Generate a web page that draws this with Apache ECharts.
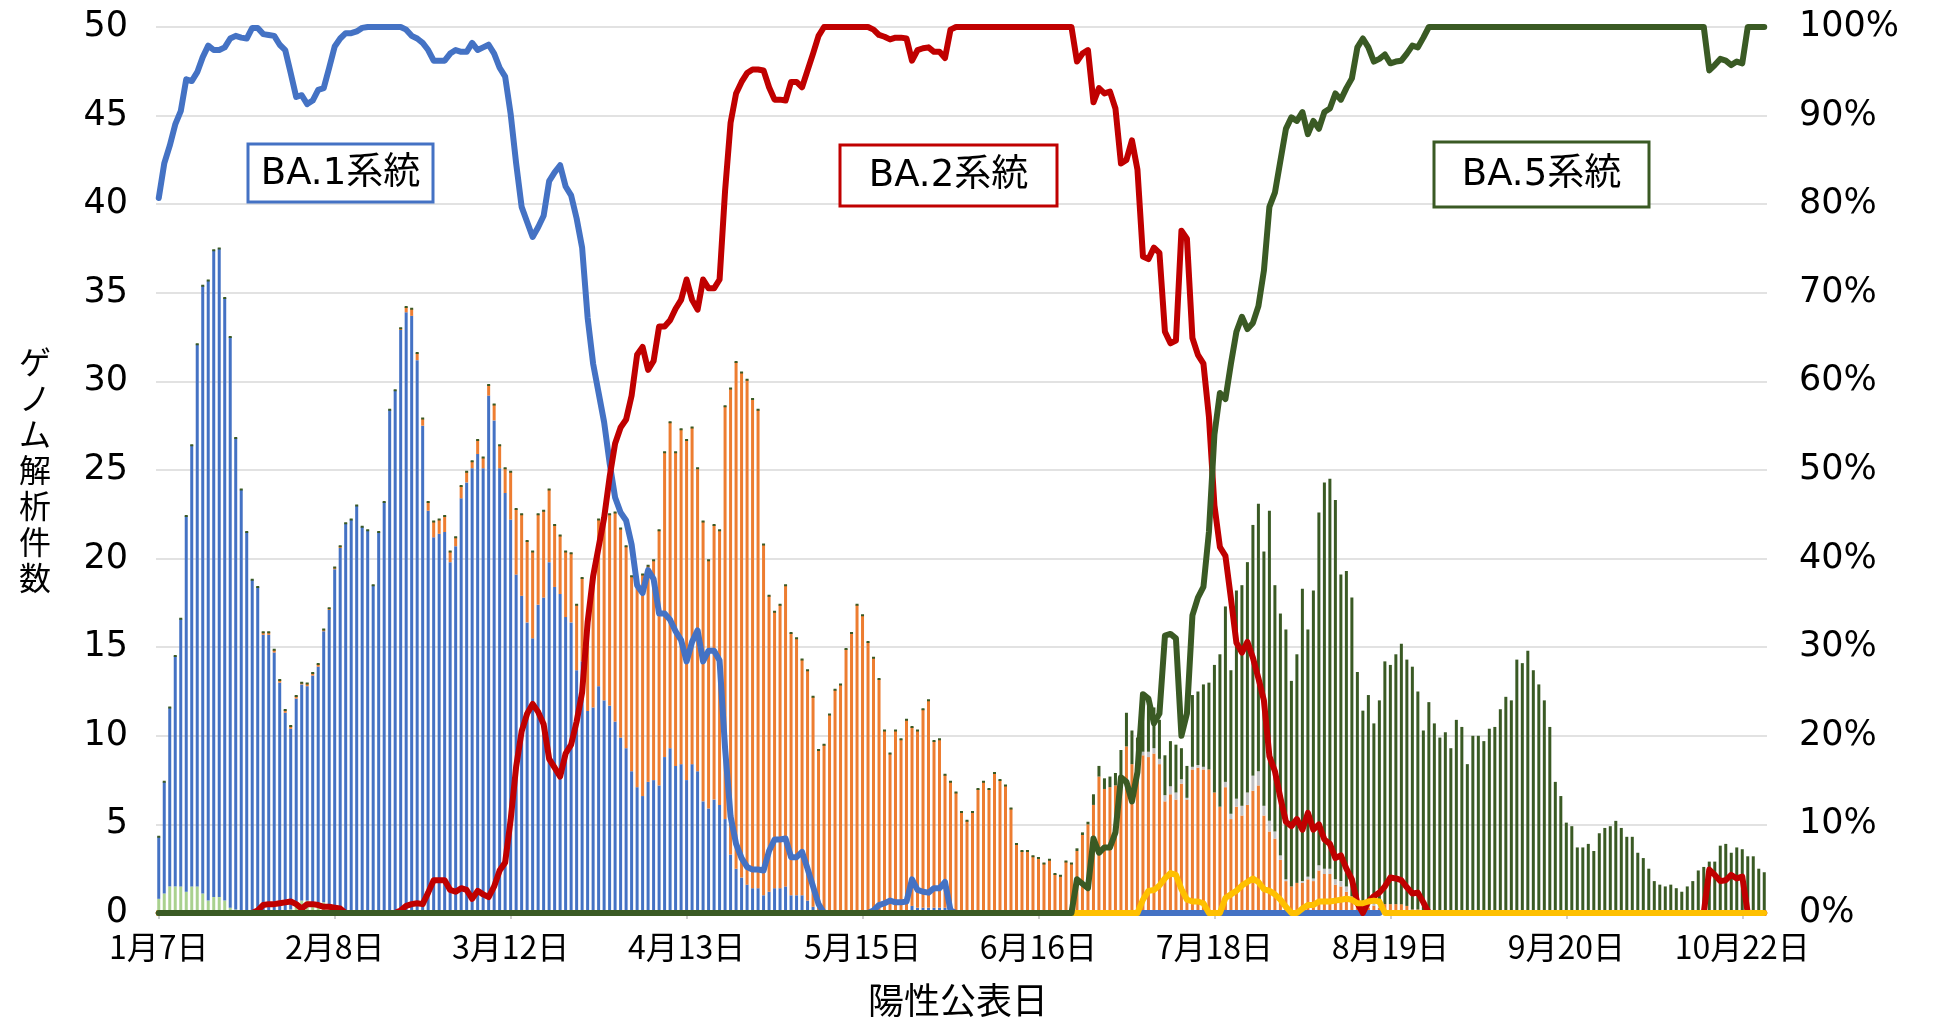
<!DOCTYPE html>
<html><head><meta charset="utf-8">
<script src="https://cdn.jsdelivr.net/npm/echarts@6/dist/echarts.min.js"></script>
<style>html,body{margin:0;padding:0;background:#fff}#c{width:1933px;height:1019px}</style>
</head><body><div id="c"></div>
<script>
// ---- categories (one per day, 2022-01-07 .. 2022-10-26) ----
const startYear = 2022, startMonth = 0, startDay = 7, dayCount = 293;
const tickLabels = ['1月7日','2月8日','3月12日','4月13日','5月15日','6月16日','7月18日','8月19日','9月20日','10月22日'];
const tickStep = 32;

// ---- bar values: ゲノム解析件数 per day ----
const otherEarlyCounts = [
0.8,1.1,1.5,1.5,1.5,1.2,1.5,1.5,1.1,0.7,
0.9,0.9,0.7,0.3,0.2,0.1,0.1,0.1,0,0,
0,0,0,0,0.2,0.5,0.7,0.7,0.6,0.4,
0.6,0.3];
const ba1Counts = [
3.5,6.3,10.1,13.0,15.1,21.2,24.9,30.6,34.3,35.0,
36.5,36.6,34.0,32.2,26.6,23.8,21.4,18.7,18.4,15.7,
15.7,14.7,13.0,11.3,10.2,11.6,12.2,12.1,12.8,13.5,
15.3,16.8,19.4,20.6,22.0,22.2,23.0,21.8,21.6,18.5,
21.5,23.2,28.4,29.5,32.9,33.9,33.7,31.2,27.5,22.7,
21.2,21.4,21.5,19.8,20.7,23.4,24.3,25.1,25.9,25.1,
29.2,27.8,25.1,23.7,22.2,19.1,17.9,16.4,15.5,17.4,
17.8,19.8,18.4,18.0,16.7,16.4,13.7,14.2,11.4,11.6,
12.8,12.0,11.7,10.8,9.9,9.3,8.0,7.1,6.6,7.4,
7.5,7.2,8.8,9.3,8.3,8.4,7.5,8.4,8.0,6.3,
5.9,6.4,6.1,5.3,3.3,2.5,2.0,1.6,1.4,1.4,
1.0,1.2,1.4,1.4,1.5,1.0,1.0,1.0,0.7,0.35,
0.1,0,0,0,0,0,0,0,0,0,
0.05,0.1,0.1,0.15,0.1,0.1,0.15,0.4,0.3,0.3,
0.3,0.3,0.3,0.3];
const ba2Counts = [
0,0,0,0,0,0,0,0,0,0,
0,0,0,0,0,0,0,0,0,0.15,
0.15,0.15,0.15,0.15,0.15,0.15,0.1,0.15,0.15,0.15,
0.1,0.1,0.1,0.1,0,0,0,0,0,0,
0,0,0,0,0.1,0.3,0.4,0.4,0.4,0.5,
0.9,0.8,0.9,0.6,0.5,0.7,0.6,0.4,0.8,0.6,
0.6,0.9,1.3,1.4,2.7,3.7,4.6,4.6,4.9,5.1,
4.9,4.1,3.5,3.3,3.7,3.9,3.7,4.7,5.6,7.2,
9.4,10.5,10.8,11.8,11.8,11.4,11.0,11.5,12.5,12.2,
12.4,14.4,17.2,18.4,17.7,18.9,19.2,19.0,17.1,15.8,
14.0,15.5,15.5,23.3,26.3,28.6,28.5,28.5,27.6,27.0,
19.8,16.7,15.6,16.0,17.0,14.8,14.5,13.3,13.0,11.85,
9.1,9.5,11.2,12.6,12.9,14.9,15.8,17.4,16.8,15.3,
14.35,13.1,10.2,8.85,10.2,9.7,10.75,10.1,10.0,11.2,
11.7,9.4,9.5,7.5,7.4,6.8,5.7,5.2,5.7,7.0,
7.4,7.0,7.9,7.5,7.2,5.9,3.9,3.5,3.5,3.2,
3.1,2.8,3.0,2.2,2.1,2.9,2.8,3.5,4.4,5.0,
6.1,7.7,7.0,7.1,7.2,7.7,9.4,8.4,8.2,8.9,
8.8,9.0,8.4,6.3,6.7,6.4,7.3,6.4,8.1,8.2,
8.1,8.1,6.8,6.0,7.1,5.3,6.0,5.5,6.1,6.9,
7.2,5.5,4.6,4.2,3.0,1.8,1.5,1.7,1.7,1.9,
1.8,2.4,2.2,2.2,1.6,1.5,1.2,0.7,0.6,0.4,
0.3,0.4,0.3,0.5,0.5,0.5,0.5,0.4,0.2,0.2,
0.1,0,0,0,0,0,0,0,0,0,
0,0,0,0,0,0,0,0,0,0,
0,0,0,0,0,0,0,0,0,0,
0,0,0,0,0,0,0,0,0,0,
0,0,0,0,0,0,0,0,0,0,
0,0,0.15,0.15,0.15,0.15,0.15,0.15,0.15];
const otherCounts = [
0,0,0,0,0,0,0,0,0,0, 0,0,0,0,0,0,0,0,0,0,
0,0,0,0,0,0,0,0,0,0, 0,0,0,0,0,0,0,0,0,0,
0,0,0,0,0,0,0,0,0,0, 0,0,0,0,0,0,0,0,0,0,
0,0,0,0,0,0,0,0,0,0, 0,0,0,0,0,0,0,0,0,0,
0,0,0,0,0,0,0,0,0,0, 0,0,0,0,0,0,0,0,0,0,
0,0,0,0,0,0,0,0,0,0, 0,0,0,0,0,0,0,0,0,0,
0,0,0,0,0,0,0,0,0,0, 0,0,0,0,0,0,0,0,0,0,
0,0,0,0,0,0,0,0,0,0, 0,0,0,0,0,0,0,0,0,0,
0,0,0,0,0,0,0,0,0,0, 0,0,0,0,0,0,0,0,0,0.2,
0.3,0.3,0.3,0.35,0.45,0.4,0.25,0.1,0.15,0.15,
0.15,0,0,0,0.3,0.3,0.45,0.55,0.7,0.85,
0.8,0.55,0.6,0.4,0.25,0.1,0,0,0.1,0.15,
0.15,0.3,0.3,0.3,0.3,0.3,0.3,0.25,0.15,0.12,
0.15,0.15,0.15];
const ba5Counts = [
0,0,0,0,0,0,0,0,0,0, 0,0,0,0,0,0,0,0,0,0,
0,0,0,0,0,0,0,0,0,0, 0,0,0,0,0,0,0,0,0,0,
0,0,0,0,0,0,0,0,0,0, 0,0,0,0,0,0,0,0,0,0,
0,0,0,0,0,0,0,0,0,0, 0,0,0,0,0,0,0,0,0,0,
0,0,0,0,0,0,0,0,0,0, 0,0,0,0,0,0,0,0,0,0,
0,0,0,0,0,0,0,0,0,0, 0,0,0,0,0,0,0,0,0,0,
0,0,0,0,0,0,0,0,0,0, 0,0,0,0,0,0,0,0,0,0,
0,0,0,0,0,0,0,0,0,0, 0,0,0,0,0,0,0,0,0,0,
0,0,0,0,0,0,0,0.15,0.15,0.15,
0.6,0.6,0.6,0.6,0.7,1.5,1.9,1.9,1.7,2.9,
2.7,2.3,2.2,2.25,2.55,2.7,1.75,1.8,4.05,4.15,
4.65,4.9,7.2,8.6,9.9,8.1,11.75,12.45,13.0,14.15,
15.1,14.35,17.5,13.9,13.65,14.1,11.6,12.9,16.5,13.95,
16.25,19.9,21.8,22.0,21.4,17.3,17.8,16.85,12.85,10.9,
11.85,10.15,11.55,13.7,13.5,14.1,14.7,13.9,13.7,12.3,
10.2,11.9,10.7,9.9,10.2,9.3,10.9,10.5,8.4,10.0,
10.0,9.7,10.4,10.5,11.5,12.2,12.0,14.3,14.1,14.8,
13.7,12.9,12.0,10.5,7.4,6.6,5.1,4.9,3.7,3.7,
3.9,3.5,4.5,4.8,4.9,5.2,4.8,4.3,4.3,3.4,
3.1,2.5,1.8,1.6,1.5,1.6,1.4,1.2,1.5,1.8,
2.4,2.6,2.75,2.75,3.65,3.75,3.25,3.55,3.45,3.2,
3.2,2.5,2.3];

// ---- line values: share of each lineage (%) ----
const ba1Pct = [
80.7,84.6,86.6,89.0,90.5,94.1,93.9,94.9,96.6,97.9,
97.4,97.4,97.7,98.7,99.0,98.8,98.7,99.9,99.9,99.2,
99.1,99.0,98.0,97.4,94.8,92.1,92.3,91.3,91.7,92.9,
93.1,95.4,97.8,98.7,99.3,99.3,99.5,99.9,100,100,
100,100,100,100,100,99.7,99.0,98.7,98.2,97.4,
96.2,96.2,96.2,97.0,97.4,97.2,97.2,98.2,97.4,97.7,
98.0,97.0,95.4,94.4,90.2,84.6,79.7,78.0,76.3,77.4,
78.7,82.6,83.6,84.4,82.0,81.0,78.4,75.1,67.2,62.0,
58.7,55.4,50.8,46.9,45.2,44.3,41.6,37.0,36.1,38.7,
37.7,33.8,33.8,33.1,31.8,30.8,28.4,30.6,31.9,28.4,
29.6,29.6,28.5,18.6,10.9,7.8,6.2,5.2,4.9,4.9,
4.8,7.0,8.3,8.3,8.4,6.3,6.3,6.9,5.0,3.0,
1.0,0,0,0,0,0,0,0,0,0,
0.3,0.9,1.1,1.4,1.2,1.2,1.3,3.8,2.6,2.4,
2.3,2.8,2.8,3.5,0.3,0,0,0,0,0,
0,0,0,0,0,0,0,0,0,0, 0,0,0,0,0,0,0,0,0,0,
0,0,0,0,0,0,0,0,0,0, 0,0,0,0,0,0,0,0,0,0,
0,0,0,0,0,0,0,0,0,0, 0,0,0,0,0,0,0,0,0,0,
0,0,0,0,0,0,0,0,0,0, 0,0,0];
const ba2Pct = [
0,0,0,0,0,0,0,0,0,0,
0,0,0,0,0,0,0,0,0.3,0.9,
1.0,1.0,1.1,1.2,1.3,1.0,0.5,1.0,1.0,0.9,
0.7,0.7,0.6,0.5,0,0,0,0,0,0,
0,0,0,0,0.3,0.8,1.0,1.1,1.0,2.3,
3.7,3.7,3.7,2.6,2.4,2.8,2.6,1.6,2.5,2.1,
1.8,3.0,4.8,5.7,10.5,16.5,20.5,22.5,23.6,22.7,
21.3,17.4,16.4,15.4,18.0,19.0,21.6,24.9,32.8,38.0,
41.3,44.6,49.2,53.0,54.8,55.7,58.4,63.0,63.9,61.3,
62.3,66.2,66.2,66.9,68.2,69.2,71.5,69.2,68.1,71.5,
70.5,70.5,71.5,81.5,89.2,92.5,93.8,94.8,95.2,95.2,
95.1,93.2,91.8,91.8,91.7,93.8,93.8,93.2,95.1,97.0,
99.0,100,100,100,100,100,100,100,100,100,
99.7,99.1,98.9,98.6,98.8,98.8,98.7,96.2,97.4,97.6,
97.7,97.2,97.2,96.5,99.7,100,100,100,100,100,
100,100,100,100,100,100,100,100,100,100,
100,100,100,100,100,100,100,96.1,97.0,97.4,
91.5,93.1,92.5,92.7,90.8,84.6,85.0,87.2,83.9,74.1,
73.8,75.1,74.5,65.6,64.3,64.6,77.0,76.1,64.9,63.0,
62.0,56.0,46.0,41.3,40.3,35.5,30.5,29.4,30.6,28.8,
26.5,24.0,17.7,16.0,13.0,10.3,9.8,10.6,9.4,11.3,
9.4,10.0,8.3,7.8,6.2,6.5,5.0,3.8,1.1,0,
1.3,1.9,2.3,3.0,4.0,3.9,3.7,2.9,2.2,2.3,
1.2,0,0,0,0,0,0,0,0,0,
0,0,0,0,0,0,0,0,0,0, 0,0,0,0,0,0,0,0,0,0,
0,0,0,0,0,0,0,0,0,0, 0,0,0,0,0,0,0,0,0,0,
0,0,4.9,4.3,3.6,3.7,4.3,3.9,4.1,0,
0,0,0];
const otherPct = [
0,0,0,0,0,0,0,0,0,0, 0,0,0,0,0,0,0,0,0,0,
0,0,0,0,0,0,0,0,0,0, 0,0,0,0,0,0,0,0,0,0,
0,0,0,0,0,0,0,0,0,0, 0,0,0,0,0,0,0,0,0,0,
0,0,0,0,0,0,0,0,0,0, 0,0,0,0,0,0,0,0,0,0,
0,0,0,0,0,0,0,0,0,0, 0,0,0,0,0,0,0,0,0,0,
0,0,0,0,0,0,0,0,0,0, 0,0,0,0,0,0,0,0,0,0,
0,0,0,0,0,0,0,0,0,0, 0,0,0,0,0,0,0,0,0,0,
0,0,0,0,0,0,0,0,0,0, 0,0,0,0,0,0,0,0,0,0,
0,0,0,0,0,0,0,0,0,0,
0,0,0,0,0,0,0,0,0,1.5,
2.5,2.6,3.1,3.9,4.5,4.3,2.7,1.5,1.3,1.3,
1.1,0,0,0,1.7,2.1,2.5,3.1,3.5,3.9,
3.5,2.7,2.5,2.1,1.5,0.7,0,0,0.5,0.9,
0.9,1.3,1.3,1.3,1.4,1.5,1.6,1.5,1.1,1.1,
1.3,1.4,1.3,0,0,0,0,0,0,0,
0,0,0,0,0,0,0,0,0,0, 0,0,0,0,0,0,0,0,0,0,
0,0,0,0,0,0,0,0,0,0, 0,0,0,0,0,0,0,0,0,0,
0,0,0,0,0,0,0,0,0,0, 0,0,0,0,0,0,0,0,0,0,
0,0,0];
const ba5Pct = [
0,0,0,0,0,0,0,0,0,0, 0,0,0,0,0,0,0,0,0,0,
0,0,0,0,0,0,0,0,0,0, 0,0,0,0,0,0,0,0,0,0,
0,0,0,0,0,0,0,0,0,0, 0,0,0,0,0,0,0,0,0,0,
0,0,0,0,0,0,0,0,0,0, 0,0,0,0,0,0,0,0,0,0,
0,0,0,0,0,0,0,0,0,0, 0,0,0,0,0,0,0,0,0,0,
0,0,0,0,0,0,0,0,0,0, 0,0,0,0,0,0,0,0,0,0,
0,0,0,0,0,0,0,0,0,0, 0,0,0,0,0,0,0,0,0,0,
0,0,0,0,0,0,0,0,0,0, 0,0,0,0,0,0,0,0,0,0,
0,0,0,0,0,0,0,3.8,3.3,2.8,
8.4,6.8,7.4,7.4,9.1,15.3,14.8,12.6,15.9,24.7,
24.2,21.4,22.5,31.3,31.5,31.0,20.0,22.5,33.6,35.6,
36.8,43.0,54.0,58.7,58.0,62.0,65.6,67.3,65.9,66.6,
68.5,72.5,79.7,81.3,84.9,88.5,89.8,89.4,90.4,87.9,
89.4,88.5,90.4,90.8,92.5,91.8,93.1,94.2,97.7,98.7,
97.7,96.1,96.4,96.9,95.9,96.1,96.2,97.0,97.9,97.7,
98.8,100,100,100,100,100,100,100,100,100,
100,100,100,100,100,100,100,100,100,100,
100,100,100,100,100,100,100,100,100,100,
100,100,100,100,100,100,100,100,100,100,
100,100,100,100,100,100,100,100,100,100,
100,100,95.1,95.7,96.4,96.2,95.7,96.1,95.9,100,
100,100,100];

// ---- colours ----
const C_BA1 = '#4472C4', C_BA2 = '#ED7D31', C_BA5 = '#3A5A24', C_EARLY = '#A9D18E',
      C_OTH = '#BFBFBF', C_RED = '#C00000', C_YEL = '#FFC000';

const categories = [];
for (let i = 0; i < dayCount; i++) {
  const d = new Date(startYear, startMonth, startDay + i);
  categories.push((d.getMonth() + 1) + '月' + d.getDate() + '日');
}

const chart = echarts.init(document.getElementById('c'), null, {renderer: 'canvas'});
const barBase = {type: 'bar', stack: 'n', barWidth: 3, xAxisIndex: 0, yAxisIndex: 0, emphasis: {disabled: true}};
const lineBase = {type: 'line', yAxisIndex: 1, symbol: 'none', emphasis: {disabled: true}, lineStyle: {width: 6, join: 'round', cap: 'round'}};
const numFont = "'DejaVu Sans', sans-serif";
const jpFont = "'Noto Sans CJK JP', sans-serif";

chart.setOption({
  animation: false,
  backgroundColor: '#fff',
  grid: {left: 156, right: 166, top: 27, bottom: 106},
  xAxis: {
    type: 'category', data: categories, boundaryGap: true,
    axisLine: {show: true, lineStyle: {color: '#D9D9D9', width: 1.5}},
    axisTick: {show: true, alignWithLabel: true, interval: (i) => i % tickStep === 0, length: 6, lineStyle: {color: '#BFBFBF', width: 1.5}},
    axisLabel: {interval: (i) => i % tickStep === 0, formatter: (v, i) => tickLabels[i / tickStep] || v,
      fontFamily: jpFont, fontSize: 32, color: '#000', margin: 18}
  },
  yAxis: [
    {type: 'value', min: 0, max: 50, interval: 5,
     axisLine: {show: false}, axisTick: {show: false},
     splitLine: {lineStyle: {color: '#D9D9D9', width: 1.5}},
     axisLabel: {fontFamily: numFont, fontSize: 35, color: '#000', margin: 28}},
    {type: 'value', min: 0, max: 100, interval: 10, position: 'right',
     axisLine: {show: false}, axisTick: {show: false}, splitLine: {show: false},
     axisLabel: {formatter: '{value}%', fontFamily: numFont, fontSize: 35, color: '#000', margin: 32}}
  ],
  series: [
    Object.assign({}, barBase, {name: 'その他(初期)', data: otherEarlyCounts, itemStyle: {color: C_EARLY}}),
    Object.assign({}, barBase, {name: 'BA.1系統', data: ba1Counts, itemStyle: {color: C_BA1}}),
    Object.assign({}, barBase, {name: 'BA.2系統', data: ba2Counts, itemStyle: {color: C_BA2}}),
    Object.assign({}, barBase, {name: 'その他', data: otherCounts, itemStyle: {color: C_OTH}}),
    Object.assign({}, barBase, {name: 'BA.5系統', data: ba5Counts, itemStyle: {color: C_BA5, borderColor: C_BA5, borderWidth: 2}}),
    Object.assign({}, lineBase, {name: 'BA.1割合', data: ba1Pct, itemStyle: {color: C_BA1}, lineStyle: Object.assign({}, lineBase.lineStyle, {color: C_BA1})}),
    Object.assign({}, lineBase, {name: 'BA.2割合', data: ba2Pct, itemStyle: {color: C_RED}, lineStyle: Object.assign({}, lineBase.lineStyle, {color: C_RED})}),
    Object.assign({}, lineBase, {name: 'その他割合', data: otherPct, itemStyle: {color: C_YEL}, lineStyle: Object.assign({}, lineBase.lineStyle, {color: C_YEL})}),
    Object.assign({}, lineBase, {name: 'BA.5割合', data: ba5Pct, itemStyle: {color: C_BA5}, lineStyle: Object.assign({}, lineBase.lineStyle, {color: C_BA5})})
  ],
  graphic: [
    {type: 'text', z: 100, style: {text: 'ゲ\nノ\nム\n解\n析\n件\n数', x: 35, y: 470, textAlign: 'center', textVerticalAlign: 'middle',
      font: "32px 'Noto Sans CJK JP'", lineHeight: 36, fill: '#000'}},
    {type: 'text', z: 100, style: {text: '陽性公表日', x: 958, y: 1000, textAlign: 'center', textVerticalAlign: 'middle',
      font: "36px 'Noto Sans CJK JP'", fill: '#000'}},
    {type: 'rect', z: 100, shape: {x: 248, y: 144, width: 185, height: 58}, style: {fill: '#fff', stroke: C_BA1, lineWidth: 3}},
    {type: 'text', z: 101, style: {text: 'BA.1系統', x: 340.5, y: 174, textAlign: 'center', textVerticalAlign: 'middle',
      font: "37px 'DejaVu Sans', 'Noto Sans CJK JP'", fill: '#000'}},
    {type: 'rect', z: 100, shape: {x: 840, y: 145, width: 217, height: 61}, style: {fill: '#fff', stroke: C_RED, lineWidth: 3}},
    {type: 'text', z: 101, style: {text: 'BA.2系統', x: 948.5, y: 176, textAlign: 'center', textVerticalAlign: 'middle',
      font: "37px 'DejaVu Sans', 'Noto Sans CJK JP'", fill: '#000'}},
    {type: 'rect', z: 100, shape: {x: 1434, y: 142, width: 215, height: 65}, style: {fill: '#fff', stroke: C_BA5, lineWidth: 3}},
    {type: 'text', z: 101, style: {text: 'BA.5系統', x: 1541.5, y: 175, textAlign: 'center', textVerticalAlign: 'middle',
      font: "37px 'DejaVu Sans', 'Noto Sans CJK JP'", fill: '#000'}}
  ]
});
</script>
</body></html>
